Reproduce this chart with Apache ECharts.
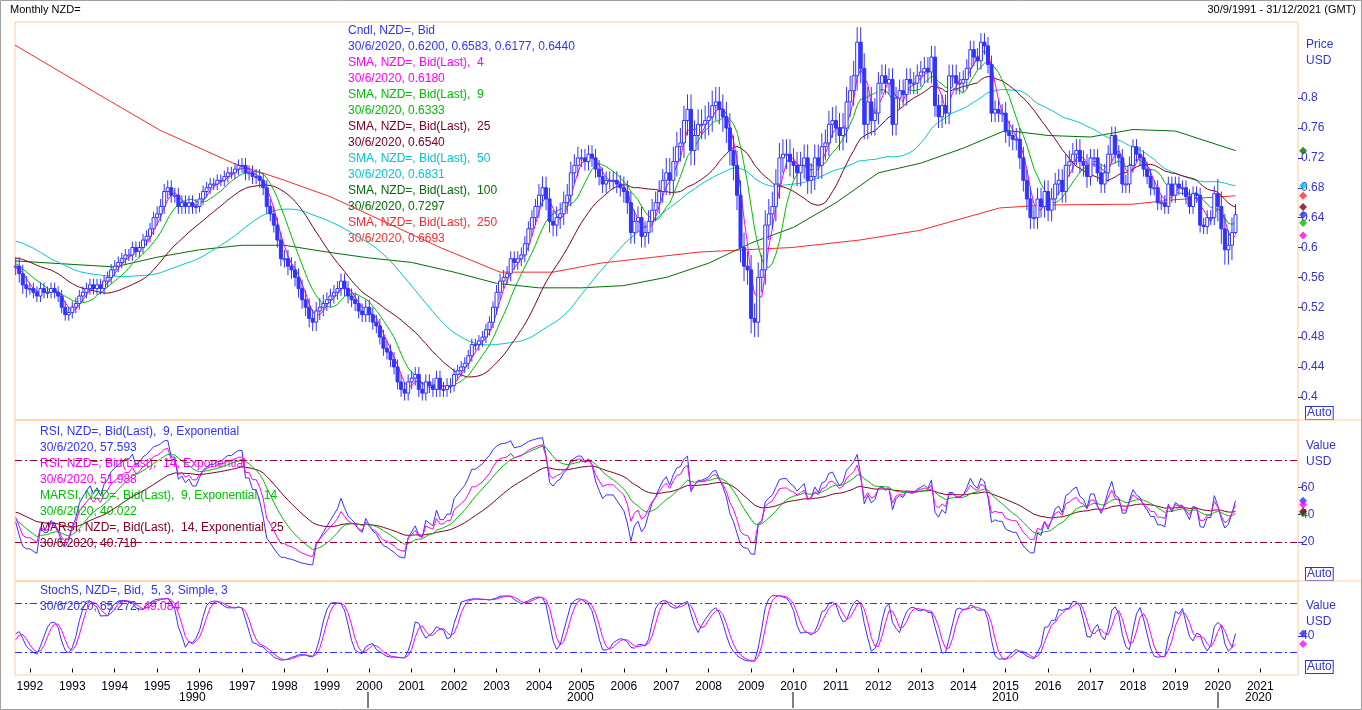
<!DOCTYPE html>
<html>
<head>
<meta charset="UTF-8"/>
<script src="https://cdn.jsdelivr.net/npm/echarts@6/dist/echarts.min.js"></script>
<style>
  html, body { margin: 0; background: #fff; }
  #c { width: 1362px; height: 710px; }
</style>
</head>
<body>
<div id="c"></div>
<script>
// months before the visible range (Aug 1987 - Aug 1991), only used to seed the averages
const preCloses = [
  0.62, 0.63, 0.66, 0.65, 0.65,
  0.67, 0.68, 0.69, 0.69, 0.68, 0.66, 0.64, 0.63, 0.62, 0.63, 0.63, 0.63,
  0.61, 0.60, 0.59, 0.59, 0.58, 0.58, 0.58, 0.58, 0.58, 0.58, 0.59, 0.59,
  0.59, 0.59, 0.59, 0.58, 0.58, 0.58, 0.60, 0.60, 0.60, 0.60, 0.60, 0.59,
  0.59, 0.59, 0.58, 0.58, 0.575, 0.57, 0.57, 0.575
];

// monthly closes, Sep 1991 - Jun 2020
const closes = [
  0.575, 0.565, 0.55, 0.545,
  0.545, 0.54, 0.535, 0.545, 0.54, 0.54, 0.545, 0.54, 0.535, 0.52, 0.51, 0.513,
  0.52, 0.525, 0.535, 0.54, 0.545, 0.55, 0.545, 0.55, 0.545, 0.555, 0.56, 0.57,
  0.575, 0.58, 0.585, 0.59, 0.59, 0.60, 0.595, 0.60, 0.61, 0.615, 0.625, 0.64,
  0.645, 0.655, 0.675, 0.68, 0.67, 0.67, 0.655, 0.66, 0.655, 0.66, 0.655, 0.655,
  0.665, 0.675, 0.68, 0.685, 0.685, 0.69, 0.69, 0.695, 0.70, 0.70, 0.705, 0.71,
  0.71, 0.70, 0.70, 0.695, 0.695, 0.69, 0.68, 0.655, 0.645, 0.63, 0.61, 0.585,
  0.585, 0.575, 0.57, 0.56, 0.545, 0.53, 0.52, 0.505, 0.50, 0.515, 0.52, 0.525,
  0.53, 0.535, 0.54, 0.545, 0.555, 0.545, 0.535, 0.53, 0.525, 0.515, 0.51, 0.52,
  0.51, 0.50, 0.495, 0.48, 0.465, 0.46, 0.45, 0.44, 0.42, 0.41, 0.405, 0.42,
  0.425, 0.43, 0.41, 0.405, 0.42, 0.415, 0.41, 0.425, 0.41, 0.41, 0.415, 0.415,
  0.43, 0.435, 0.44, 0.445, 0.455, 0.47, 0.47, 0.475, 0.48, 0.49, 0.50, 0.52,
  0.54, 0.555, 0.56, 0.565, 0.585, 0.58, 0.585, 0.59, 0.605, 0.625, 0.64, 0.655,
  0.67, 0.68, 0.665, 0.635, 0.63, 0.64, 0.645, 0.66, 0.67, 0.70, 0.71, 0.72,
  0.72, 0.715, 0.725, 0.72, 0.705, 0.695, 0.685, 0.69, 0.69, 0.69, 0.685, 0.68,
  0.675, 0.66, 0.62, 0.635, 0.64, 0.615, 0.62, 0.635, 0.65, 0.66, 0.675, 0.69,
  0.70, 0.69, 0.715, 0.735, 0.74, 0.77, 0.785, 0.73, 0.75, 0.765, 0.765, 0.77,
  0.775, 0.79, 0.795, 0.785, 0.775, 0.76, 0.73, 0.71, 0.67, 0.60, 0.575, 0.57,
  0.505, 0.50, 0.56, 0.57, 0.63, 0.645, 0.655, 0.685, 0.72, 0.725, 0.725, 0.715,
  0.71, 0.70, 0.71, 0.72, 0.69, 0.695, 0.72, 0.71, 0.735, 0.74, 0.765, 0.77,
  0.76, 0.75, 0.76, 0.795, 0.81, 0.83, 0.875, 0.84, 0.765, 0.795, 0.77, 0.78,
  0.82, 0.83, 0.82, 0.825, 0.765, 0.80, 0.81, 0.805, 0.825, 0.82, 0.82, 0.83,
  0.835, 0.84, 0.835, 0.855, 0.79, 0.775, 0.79, 0.78, 0.83, 0.83, 0.82, 0.82,
  0.825, 0.84, 0.865, 0.855, 0.85, 0.875, 0.87, 0.845, 0.78, 0.785, 0.78, 0.78,
  0.755, 0.75, 0.745, 0.745, 0.72, 0.69, 0.665, 0.64, 0.64, 0.665, 0.655, 0.675,
  0.65, 0.665, 0.685, 0.69, 0.675, 0.71, 0.715, 0.725, 0.73, 0.715, 0.71, 0.695,
  0.72, 0.72, 0.70, 0.685, 0.70, 0.725, 0.75, 0.725, 0.72, 0.685, 0.685, 0.71,
  0.735, 0.725, 0.72, 0.705, 0.695, 0.68, 0.68, 0.66, 0.66, 0.655, 0.685, 0.67,
  0.685, 0.68, 0.68, 0.668, 0.655, 0.672, 0.67, 0.63, 0.628, 0.64, 0.64, 0.672,
  0.655, 0.625, 0.597, 0.603, 0.62, 0.644
];

// typical wick length per calendar year, 1987 - 2020
const wickYears = [
  0.012, 0.012, 0.012, 0.012, 0.012,
  0.008, 0.008, 0.008, 0.010, 0.008, 0.010, 0.012, 0.010, 0.010, 0.010,
  0.008, 0.010, 0.015, 0.012, 0.015, 0.020, 0.020, 0.020, 0.018, 0.020,
  0.015, 0.015, 0.012, 0.015, 0.015, 0.012, 0.010, 0.010, 0.020
];
const lastCandle = { open: 0.6200, high: 0.6583, low: 0.6177, close: 0.6440 };

// long averages (decimal year, value)
const sma100Pts = [
  [1991.65, 0.582], [1994.0, 0.574], [1995.0, 0.587], [1996.0, 0.597], [1997.0, 0.603],
  [1998.0, 0.603], [1999.0, 0.594], [2000.0, 0.586], [2001.0, 0.580], [2002.0, 0.567],
  [2003.0, 0.552], [2004.0, 0.546], [2005.0, 0.546], [2006.0, 0.549], [2007.0, 0.560],
  [2008.0, 0.579], [2009.0, 0.606], [2010.0, 0.627], [2011.0, 0.660], [2012.0, 0.700],
  [2013.0, 0.713], [2014.0, 0.733], [2015.0, 0.757], [2016.0, 0.750], [2017.0, 0.748],
  [2018.0, 0.758], [2019.0, 0.756], [2020.42, 0.7297]
];
const sma250Pts = [
  [1991.65, 0.871], [1993.65, 0.804], [1995.07, 0.757], [1996.79, 0.713], [1998.0, 0.690],
  [1999.08, 0.668], [1999.5, 0.657], [2001.67, 0.600], [2003.08, 0.567], [2004.33, 0.567],
  [2005.44, 0.579], [2007.8, 0.594], [2009.96, 0.600], [2011.56, 0.610], [2012.98, 0.623],
  [2014.86, 0.653], [2015.97, 0.657], [2017.98, 0.658], [2018.99, 0.664], [2020.42, 0.6693]
];

const yearTicks = [];
for (let y = 1992; y <= 2021; y++) yearTicks.push(y);
const priceTicks = [0.4, 0.44, 0.48, 0.52, 0.56, 0.6, 0.64, 0.68, 0.72, 0.76, 0.8];

// ---- build candles & indicators ----
const allC = preCloses.concat(closes);
const nPre = preCloses.length;
const x0 = 1987 + 7 / 12;               // Aug 1987
const xs = allC.map((_, i) => x0 + i / 12);
const O = [], H = [], L = [];
allC.forEach((c, i) => {
  const o = i === 0 ? c : allC[i - 1];
  const w = wickYears[Math.floor(xs[i] + 1e-6) - 1987];
  O.push(o); H.push(Math.max(o, c) + w); L.push(Math.min(o, c) - w);
});
const last = allC.length - 1;
O[last] = lastCandle.open; H[last] = lastCandle.high; L[last] = lastCandle.low;

function sma(arr, n) {
  return arr.map((_, i) => {
    if (i < n - 1) return null;
    let s = 0;
    for (let k = i - n + 1; k <= i; k++) s += arr[k];
    return s / n;
  });
}
function rsi(arr, n) {
  const out = arr.map(() => null);
  let g = 0, l = 0;
  for (let i = 1; i <= n; i++) { const d = arr[i] - arr[i - 1]; if (d > 0) g += d; else l -= d; }
  g /= n; l /= n;
  out[n] = 100 - 100 / (1 + g / (l || 1e-9));
  for (let i = n + 1; i < arr.length; i++) {
    const d = arr[i] - arr[i - 1];
    g = (g * (n - 1) + Math.max(d, 0)) / n;
    l = (l * (n - 1) + Math.max(-d, 0)) / n;
    out[i] = 100 - 100 / (1 + g / (l || 1e-9));
  }
  return out;
}
function ema(arr, n) {
  const a = 2 / (n + 1);
  let prev = null;
  return arr.map(v => {
    if (v == null) return null;
    prev = prev == null ? v : prev + a * (v - prev);
    return prev;
  });
}
function smaN(arr, n) {
  return arr.map((_, i) => {
    if (i < n - 1) return null;
    let s = 0;
    for (let k = i - n + 1; k <= i; k++) { if (arr[k] == null) return null; s += arr[k]; }
    return s / n;
  });
}
const rawK = allC.map((c, i) => {
  if (i < 4) return null;
  const hh = Math.max(...H.slice(i - 4, i + 1)), ll = Math.min(...L.slice(i - 4, i + 1));
  return (c - ll) / (hh - ll) * 100;
});
const stK = smaN(rawK, 3);
const stD = smaN(stK, 3);

const rsi9 = rsi(allC, 9), rsi14 = rsi(allC, 14);
const marsi9 = ema(rsi9, 14), marsi14 = ema(rsi14, 25);

const vis = (arr) => arr.map((v, i) => [xs[i], v]).slice(nPre);
const candles = allC.map((c, i) => [xs[i], O[i], c, L[i], H[i]]).slice(nPre);

const XMIN = 1991.65, XMAX = 2021.89;
const BLUE = '#3333ff', LBL = '#3333cc';
const FONT = 'Liberation Sans';

function xAx(grid, labels) {
  return {
    type: 'value', gridIndex: grid, min: XMIN, max: XMAX,
    axisLine: { show: false }, splitLine: { show: false },
    axisTick: labels ? { show: true, customValues: yearTicks, length: 4, lineStyle: { color: '#000' } } : { show: false },
    axisLabel: labels ? { show: true, customValues: yearTicks, color: '#000', fontSize: 12, fontFamily: FONT, margin: 6, formatter: v => String(Math.round(v)) } : { show: false }
  };
}
function yAx(grid, min, max, ticks, fmt) {
  return {
    type: 'value', gridIndex: grid, position: 'right', min, max,
    axisLine: { show: false }, splitLine: { show: false },
    axisTick: { show: true, customValues: ticks, length: 5, lineStyle: { color: LBL } },
    axisLabel: { customValues: ticks, color: LBL, fontSize: 12, fontFamily: FONT, margin: 3, formatter: fmt }
  };
}
function line(name, data, color, xi, yi, w) {
  return { name, type: 'line', xAxisIndex: xi, yAxisIndex: yi, data, showSymbol: false, symbol: 'none',
    lineStyle: { color, width: w || 1 }, itemStyle: { color }, animation: false, connectNulls: false, z: 3 };
}
function endMark(data, color, xi, yi) {
  const lv = data[data.length - 1][1];
  return { type: 'scatter', xAxisIndex: xi, yAxisIndex: yi, data: [[XMAX + 0.12, lv]], symbol: 'diamond',
    symbolSize: 8, itemStyle: { color }, clip: false, silent: true, animation: false, z: 5 };
}

const cMag = '#ff00ff', cGrn = '#00c000', cDred = '#800020', cCyan = '#00c8d0', cDgrn = '#007000', cRed = '#ff2a2a';
const s4 = vis(sma(allC, 4)), s9 = vis(sma(allC, 9)), s25 = vis(sma(allC, 25)), s50 = vis(sma(allC, 50));
const r9 = vis(rsi9), r14 = vis(rsi14), m9 = vis(marsi9), m14 = vis(marsi14);
const k = vis(stK), d = vis(stD);

const dashDot = [7, 3, 2, 3];
function hLine(vals, color) {
  return { symbol: 'none', silent: true, label: { show: false }, animation: false,
    lineStyle: { color, type: dashDot, width: 1 }, data: vals.map(v => ({ yAxis: v })) };
}

function txt(x, y, lines, size) {
  return lines.map((l, i) => ({ type: 'text', left: x, top: y + i * 16,
    style: { text: l[0], fill: l[1], font: (size || 12) + 'px ' + FONT } }));
}
function autoBox(y) {
  return { type: 'text', left: 1305, top: y, style: { text: 'Auto', fill: LBL, font: '12px ' + FONT,
    backgroundColor: '#fff', borderColor: LBL, borderWidth: 1, padding: [0, 1] } };
}

const chart = echarts.init(document.getElementById('c'), null, { renderer: 'canvas' });
chart.setOption({
  backgroundColor: '#fff',
  animation: false,
  grid: [
    { left: 15, right: 64, top: 22, height: 398, show: true, borderColor: '#ffcc99', borderWidth: 1 },
    { left: 15, right: 64, top: 420, height: 161, show: true, borderColor: '#ffcc99', borderWidth: 1 },
    { left: 15, right: 64, top: 581, height: 94, show: true, borderColor: '#ffcc99', borderWidth: 1 }
  ],
  xAxis: [xAx(0, false), xAx(1, false), xAx(2, true)],
  yAxis: [
    yAx(0, 0.369, 0.902, priceTicks, v => String(Math.round(v * 100) / 100)),
    yAx(1, -8.5, 109.3, [20, 40, 60], v => String(Math.round(v))),
    yAx(2, -8, 107, [40], v => String(Math.round(v)))
  ],
  series: [
    line('SMA250', sma250Pts, cRed, 0, 0),
    line('SMA100', sma100Pts, cDgrn, 0, 0),
    line('SMA50', s50, cCyan, 0, 0),
    line('SMA25', s25, cDred, 0, 0),
    {
      type: 'custom', xAxisIndex: 0, yAxisIndex: 0, data: candles, animation: false, z: 4,
      renderItem: function (params, api) {
        const x = api.value(0), o = api.value(1), c = api.value(2), lo = api.value(3), hi = api.value(4);
        const ph = api.coord([x, hi]), pl = api.coord([x, lo]);
        const po = api.coord([x, o]), pc = api.coord([x, c]);
        const up = c >= o, w = 3;
        const top = Math.min(po[1], pc[1]), hgt = Math.max(Math.abs(po[1] - pc[1]), 1);
        return { type: 'group', children: [
          { type: 'line', shape: { x1: ph[0], y1: ph[1], x2: pl[0], y2: pl[1] }, style: { stroke: BLUE, lineWidth: 1 } },
          { type: 'rect', shape: { x: ph[0] - w / 2, y: top, width: w, height: hgt },
            style: { fill: up ? '#fff' : BLUE, stroke: BLUE, lineWidth: 1 } }
        ] };
      }
    },
    line('SMA9', s9, cGrn, 0, 0),
    line('SMA4', s4, cMag, 0, 0),
    endMark(sma100Pts, cDgrn, 0, 0), endMark(s50, cCyan, 0, 0), endMark(sma250Pts, cRed, 0, 0),
    endMark(s25, cDred, 0, 0), endMark([[0, lastCandle.close]], BLUE, 0, 0), endMark(s9, cGrn, 0, 0),
    endMark(s4, cMag, 0, 0),

    Object.assign(line('MARSI14', m14, cDred, 1, 1), { markLine: hLine([80, 20], '#990033') }),
    line('MARSI9', m9, cGrn, 1, 1),
    line('RSI9', r9, BLUE, 1, 1),
    line('RSI14', r14, cMag, 1, 1),
    endMark(r9, BLUE, 1, 1), endMark(r14, cMag, 1, 1), endMark(m9, cGrn, 1, 1), endMark(m14, cDred, 1, 1),

    Object.assign(line('StochK', k, BLUE, 2, 2), { markLine: hLine([80, 20], '#3333ff') }),
    line('StochD', d, cMag, 2, 2),
    endMark(k, BLUE, 2, 2), endMark(d, cMag, 2, 2)
  ],
  graphic: [
    { type: 'text', left: 10, top: 4, style: { text: 'Monthly NZD=', fill: '#000', font: '11px ' + FONT } },
    { type: 'text', right: 6, top: 4, style: { text: '30/9/1991 - 31/12/2021 (GMT)', fill: '#000', font: '11px ' + FONT } },
    ...txt(348, 25, [
      ['Cndl, NZD=, Bid', BLUE], ['30/6/2020, 0.6200, 0.6583, 0.6177, 0.6440', BLUE],
      ['SMA, NZD=, Bid(Last),  4', cMag], ['30/6/2020, 0.6180', cMag],
      ['SMA, NZD=, Bid(Last),  9', cGrn], ['30/6/2020, 0.6333', cGrn],
      ['SMA, NZD=, Bid(Last),  25', cDred], ['30/6/2020, 0.6540', cDred],
      ['SMA, NZD=, Bid(Last),  50', cCyan], ['30/6/2020, 0.6831', cCyan],
      ['SMA, NZD=, Bid(Last),  100', cDgrn], ['30/6/2020, 0.7297', cDgrn],
      ['SMA, NZD=, Bid(Last),  250', cRed], ['30/6/2020, 0.6693', cRed]
    ]),
    ...txt(40, 426, [
      ['RSI, NZD=, Bid(Last),  9, Exponential', BLUE], ['30/6/2020, 57.593', BLUE],
      ['RSI, NZD=, Bid(Last),  14, Exponential', cMag], ['30/6/2020, 51.988', cMag],
      ['MARSI, NZD=, Bid(Last),  9, Exponential, 14', cGrn], ['30/6/2020, 40.022', cGrn],
      ['MARSI, NZD=, Bid(Last),  14, Exponential, 25', cDred], ['30/6/2020, 40.718', cDred]
    ]),
    ...txt(40, 585, [['StochS, NZD=, Bid,  5, 3, Simple, 3', BLUE]]),
    { type: 'text', left: 40, top: 601, style: { text: '{a|30/6/2020, 65.272, }{b|49.084}',
      rich: { a: { fill: BLUE, font: '12px ' + FONT }, b: { fill: cMag, font: '12px ' + FONT } } } },
    ...txt(1306, 39, [['Price', LBL], ['USD', LBL]]),
    ...txt(1306, 440, [['Value', LBL], ['USD', LBL]]),
    ...txt(1306, 600, [['Value', LBL], ['USD', LBL]]),
    autoBox(406), autoBox(567), autoBox(660),
    { type: 'line', shape: { x1: 1298, y1: 420, x2: 1362, y2: 420 }, style: { stroke: '#ffcc99' } },
    { type: 'line', shape: { x1: 1298, y1: 581, x2: 1362, y2: 581 }, style: { stroke: '#ffcc99' } },
    { type: 'line', shape: { x1: 368, y1: 692, x2: 368, y2: 708 }, style: { stroke: '#000' } },
    { type: 'line', shape: { x1: 793, y1: 692, x2: 793, y2: 708 }, style: { stroke: '#000' } },
    { type: 'line', shape: { x1: 1218, y1: 692, x2: 1218, y2: 708 }, style: { stroke: '#000' } },
    ...[['1990', 192], ['2000', 580], ['2010', 1005], ['2020', 1258]].map(t => ({
      type: 'text', left: t[1] - 13, top: 692, style: { text: t[0], fill: '#000', font: '12px ' + FONT } })),
    { type: 'rect', shape: { x: 0.5, y: 0.5, width: 1361, height: 709 }, style: { fill: 'none', stroke: '#a0a0a0' }, silent: true }
  ]
});
</script>
</body>
</html>
